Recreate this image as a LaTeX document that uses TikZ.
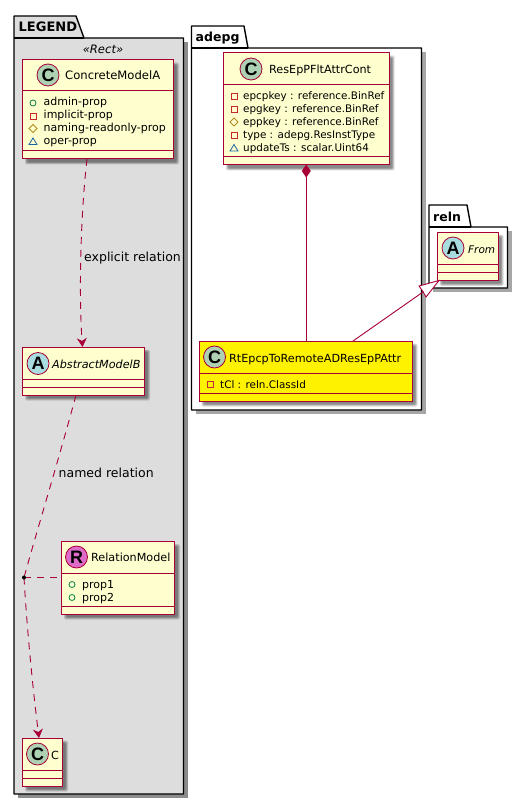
\documentclass[tikz,border=0pt]{standalone}
\usepackage{fontspec}
\setmainfont{DejaVu Sans}
\newfontfamily\circfont{Liberation Sans}
\usetikzlibrary{arrows.meta,calc}
\definecolor{umlred}{HTML}{A80036}
\definecolor{umlfill}{HTML}{FEFECE}
\definecolor{legendbg}{HTML}{DDDDDD}
\definecolor{circC}{HTML}{ADD1B2}
\definecolor{circA}{HTML}{A9DCDF}
\definecolor{circR}{HTML}{DF6BC8}
\definecolor{visG}{HTML}{038048}
\definecolor{visR}{HTML}{C82930}
\definecolor{visY}{HTML}{B38D22}
\definecolor{visB}{HTML}{1963A0}
\newcommand{\namefont}{\fontsize{11.2}{14}\selectfont}
\newcommand{\attrfont}{\fontsize{11}{13}\selectfont}
\newcommand{\typedfont}{\fontsize{10.4}{13}\selectfont}
\newcommand{\labelfont}{\fontsize{12.5}{14}\selectfont}
\newcommand{\shad}[4]{%
  \foreach \k in {0,1,2,3}{%
    \fill[black,opacity=0.14,rounded corners=1.5pt]
      ({#1+2.5+\k*0.8},{#2+2.5+\k*0.8}) rectangle ({#3+5.5-\k*0.8},{#4+5.5-\k*0.8});}}
% name x1 y1 x2 y2 line1 line2 fill
\newcommand{\umlbox}[8]{%
  \shad{#2}{#3}{#4}{#5}%
  \node[classbox,fill=#8,minimum width={(#4-#2)*1pt},minimum height={(#5-#3)*1pt}] (#1) at ({(#2+#4)/2},{(#3+#5)/2}) {};
  \draw[umlline] (#2,#6) -- (#4,#6);
  \draw[umlline] (#2,#7) -- (#4,#7);}
\newcommand{\vispub}[2]{\draw[visG,line width=.8pt] (#1,#2) circle (3pt);}
\newcommand{\vispri}[2]{\draw[visR,line width=.8pt] ({#1-3},{#2-3}) rectangle ({#1+3},{#2+3});}
\newcommand{\vispro}[2]{\draw[visY,line width=.8pt] ({#1-4},#2) -- (#1,{#2-4}) -- ({#1+4},#2) -- (#1,{#2+4}) -- cycle;}
\newcommand{\vispac}[2]{\draw[visB,line width=.8pt] ({#1-4},{#2+3}) -- (#1,{#2-3.5}) -- ({#1+4},{#2+3}) -- cycle;}
\tikzset{
  classbox/.style={draw=umlred,line width=1pt,inner sep=0pt,outer sep=0pt,rectangle},
  umlline/.style={draw=umlred,line width=1pt},
  conn/.style={draw=umlred,line width=.9pt},
  dashconn/.style={conn,dash pattern=on 7pt off 6pt},
  opentip/.style={-{Stealth[length=9pt,width=10pt,inset=3pt,fill=umlred]}},
  circ/.style={circle,draw=umlred,line width=.8pt,minimum size=22pt,inner sep=0pt,font=\circfont\fontsize{18}{18}\selectfont\bfseries},
  nm/.style={anchor=base west,inner sep=0pt,font=\namefont,text=black},
  attrtxt/.style={anchor=base west,inner sep=0pt,font=\attrfont,text=black},
  typedtxt/.style={anchor=base west,inner sep=0pt,font=\typedfont,text=black},
  lbl/.style={anchor=base west,inner sep=0pt,font=\labelfont,text=black},
  pkgtitle/.style={anchor=base west,inner sep=0pt,font=\fontsize{13}{14}\selectfont\bfseries,text=black},
  pkg/.style={draw=black,line width=1.4pt,line join=round},
}
\begin{document}
\begin{tikzpicture}[x=1pt,y=-1pt]
\useasboundingbox (0,0) rectangle (528,805);
\fill[white] (0,0) rectangle (528,805);
% packages
\fill[black!45] (18,42) rectangle (188,798);
\draw[pkg,fill=legendbg] (14,38) -- (14,16) -- (76,16) -- (84,38) -- (183.5,38) -- (183.5,794) -- (14,794) -- cycle;
\draw[pkg] (14,38) -- (84,38);
\node[pkgtitle] (legendt) at (18.5,32) {LEGEND};
\node[anchor=base,inner sep=0pt,font=\fontsize{11.6}{14}\selectfont\itshape] (rect) at (103,54) {«Rect»};

\fill[black!35] (195.5,52) rectangle (425.5,414);
\draw[pkg,fill=white] (191.5,48) -- (191.5,26) -- (244,26) -- (248,48) -- (421.5,48) -- (421.5,410) -- (191.5,410) -- cycle;
\draw[pkg] (191.5,48) -- (248,48);
\node[pkgtitle,font=\fontsize{12.5}{14}\selectfont\bfseries] (adepgt) at (195.5,42) {adepg};

\fill[black!35] (433,231) rectangle (511.5,292);
\draw[pkg,fill=white] (429,227) -- (429,205) -- (467,205) -- (471,227) -- (507.5,227) -- (507.5,288) -- (429,288) -- cycle;
\draw[pkg] (429,227) -- (471,227);
\node[pkgtitle,font=\fontsize{12.5}{14}\selectfont\bfseries] (relnt) at (433,221) {reln};

% ConcreteModelA
\umlbox{cma}{22.5}{60}{173.5}{159}{91}{151}{umlfill}
\node[circ,fill=circC] (cmac) at (48,75) {C};
\node[nm,font=\fontsize{11.6}{14}\selectfont] (cman) at (65,79.5) {ConcreteModelA};
\vispub{33}{103} \node[attrtxt] (a1) at (43.5,106) {admin-prop};
\vispri{33}{116} \node[attrtxt] (a2) at (43.5,119) {implicit-prop};
\vispro{33}{128.5} \node[attrtxt] (a3) at (43.5,132) {naming-readonly-prop};
\vispac{33}{141.5} \node[attrtxt] (a4) at (43.5,145) {oper-prop};

% AbstractModelB
\umlbox{amb}{22.5}{347}{144.5}{395}{379}{387}{umlfill}
\node[circ,fill=circA] (ambc) at (38,363.5) {A};
\node[nm,font=\fontsize{11.2}{14}\selectfont\itshape] (ambn) at (52,368) {AbstractModelB};

% RelationModel
\umlbox{rm}{61.5}{541.5}{174.5}{614}{573.5}{606}{umlfill}
\node[circ,fill=circR] (rmc) at (76.5,557) {R};
\node[nm] (rmn) at (91,561.5) {RelationModel};
\vispub{72}{584.5} \node[attrtxt] (r1) at (82,588) {prop1};
\vispub{72}{597.5} \node[attrtxt] (r2) at (82,601) {prop2};

% C
\umlbox{cc}{22.5}{738}{62.5}{786}{770}{778}{umlfill}
\node[circ,fill=circC] (ccc) at (37.5,754) {C};
\node[nm] (ccn) at (51,759) {C};

% ResEpPFltAttrCont
\umlbox{res}{223.5}{53}{389}{165}{85}{157}{umlfill}
\node[circ,fill=circC] (resc) at (251,69) {C};
\node[nm] (resn) at (269,74) {ResEpPFltAttrCont};
\vispri{234}{96.5} \node[typedtxt] (b1) at (243,100) {epcpkey : reference.BinRef};
\vispri{234}{109.5} \node[typedtxt] (b2) at (243,113) {epgkey : reference.BinRef};
\vispro{234}{122} \node[typedtxt] (b3) at (243,126) {eppkey : reference.BinRef};
\vispri{234}{135.5} \node[typedtxt] (b4) at (243,139) {type : adepg.ResInstType};
\vispac{234}{148} \node[typedtxt] (b5) at (243,152) {updateTs : scalar.Uint64};

% RtEpcp
\umlbox{rt}{199}{341}{412}{401}{373.5}{393}{yellow}
\node[circ,fill=circC] (rtc) at (214.5,357) {C};
\node[nm] (rtn) at (229,362) {RtEpcpToRemoteADResEpPAttr};
\vispri{210}{384.5} \node[typedtxt] (c1) at (220,388) {tCl : reln.ClassId};

% From
\umlbox{fr}{437}{232}{498}{280.5}{264.5}{272}{umlfill}
\node[circ,fill=circA] (frc) at (453,248) {A};
\node[nm,font=\fontsize{10.5}{14}\selectfont\itshape] (frn) at (468,253) {From};

% connectors
\coordinate (dot) at (24,577.5);
\draw[dashconn,opentip] ([xshift=-11pt]cma.south) .. controls (80,220) and (79,300) .. ([xshift=-1pt]amb.north);
\node[lbl] (l1) at (84,261.5) {explicit relation};
\draw[dashconn] ([xshift=-7.5pt]amb.south) .. controls (60,455) and (40,520) .. (dot);
\node[lbl] (l2) at (58.5,477.5) {named relation};
\draw[dashconn] (dot) -- (rm.west |- dot);
\draw[dashconn,opentip] (dot) .. controls (27,630) and (33,690) .. ([xshift=-3.5pt]cc.north);
\fill[black] (dot) circle (2pt);
\draw[conn] (res.south) -- ([xshift=.75pt]rt.north);
\fill[umlred] ([yshift=.5pt]res.south) -- ++(4.5,6.5) -- ++(-4.5,6.5) -- ++(-4.5,-6.5) -- cycle;
\draw[conn] ([xshift=47.5pt]rt.north) -- (423,292);
\draw[conn,fill=white] (423,291.5) -- (419,286) -- ([xshift=-28.5pt]fr.south) -- (426,297) -- cycle;
\end{tikzpicture}
\end{document}
